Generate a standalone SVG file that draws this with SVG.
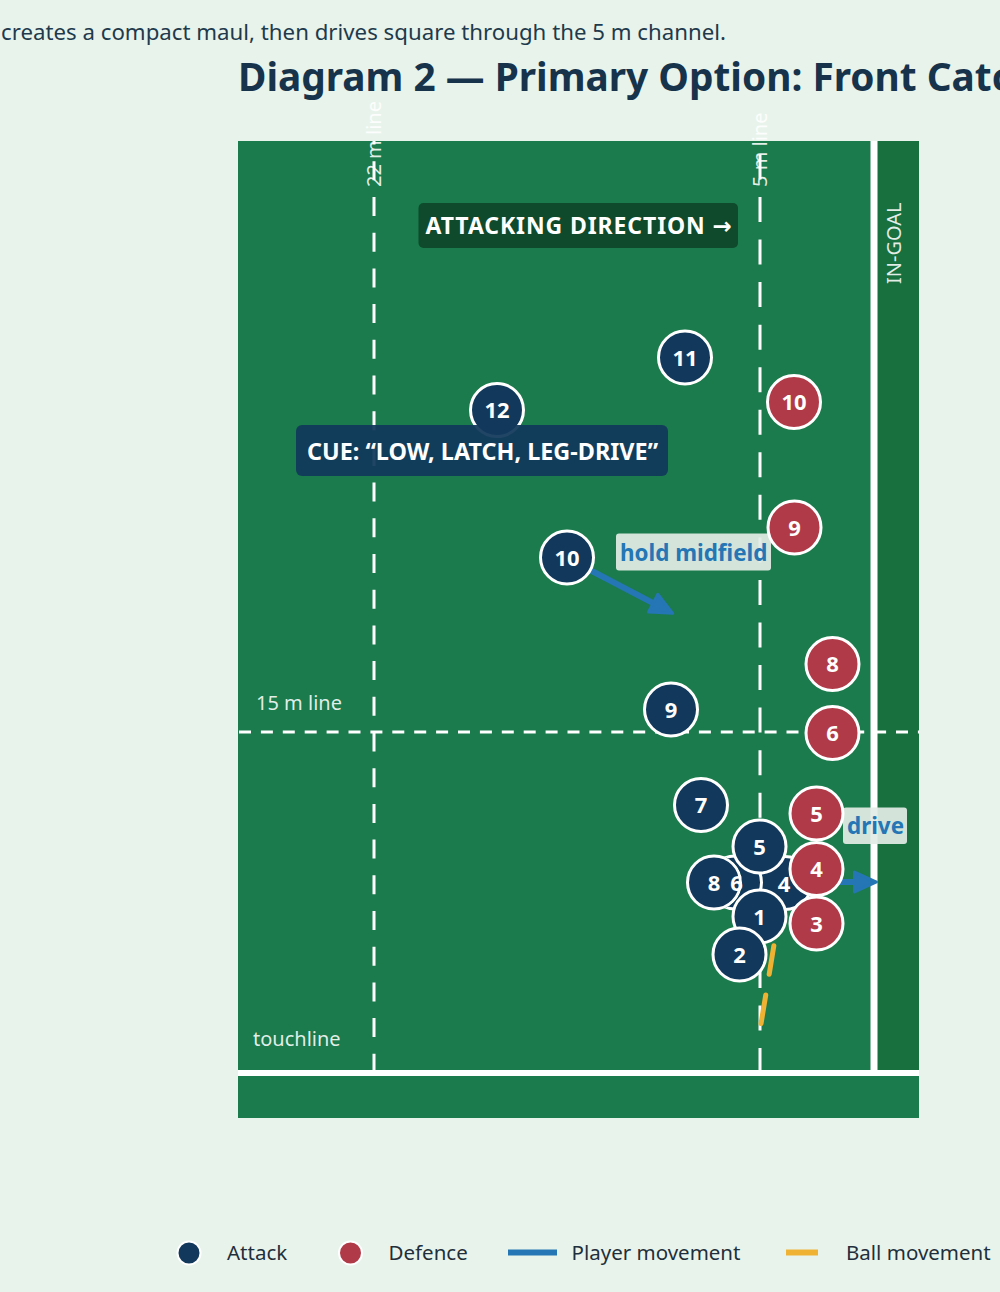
<svg xmlns="http://www.w3.org/2000/svg" width="1000" height="1292" viewBox="0 0 1000 1292">
<defs>
<style>
.t{font-family:"Noto Sans","Open Sans","DejaVu Sans",sans-serif}
.b{font-weight:700}
.att circle{fill:#12395b;stroke:#fff;stroke-width:3}
.def circle{fill:#b03a48;stroke:#fff;stroke-width:3}
.node text{font-family:"Noto Sans","Open Sans","DejaVu Sans",sans-serif;font-weight:700;font-size:22px;fill:#fff;text-anchor:middle}
.flab{font-family:"Noto Sans","Open Sans","DejaVu Sans",sans-serif;font-size:20px;fill:#fff;fill-opacity:0.88}
.vline{stroke:#fff;stroke-width:3;fill:none}
.move{stroke:#2476b5;stroke-width:6;fill:none;marker-end:url(#ah)}
.ball{stroke:#f0b232;stroke-width:5;fill:none;stroke-linecap:round}
.clab{font-family:"Noto Sans","Open Sans","DejaVu Sans",sans-serif;font-weight:700;font-size:22.4px;fill:#2476b5}
.cbox{fill:#e2ece6;fill-opacity:0.93}
.leg{font-family:"Noto Sans","Open Sans","DejaVu Sans",sans-serif;font-size:20.5px;fill:#1f2f3b}
</style>
<marker id="ah" markerUnits="userSpaceOnUse" markerWidth="26" markerHeight="24" viewBox="-2 -2 26 24" refX="14" refY="10" orient="auto">
<path d="M0,0 L22,10 L0,20 Z" fill="#2476b5" stroke="#2476b5" stroke-width="3" stroke-linejoin="round"/>
</marker>
<clipPath id="under8">
<path clip-rule="evenodd" d="M700,848 H770 V918 H700 Z M686,882.5 a28,28 0 1,0 56,0 a28,28 0 1,0 -56,0 Z"/>
</clipPath>
</defs>

<rect x="0" y="0" width="1000" height="1292" fill="#e8f4eb"/>

<text class="t" x="1" y="40" font-size="22" fill="#1f3a4c" textLength="725" lengthAdjust="spacingAndGlyphs">creates a compact maul, then drives square through the 5 m channel.</text>
<text class="t b" x="238" y="91" font-size="38.8" fill="#17334b">Diagram 2 — Primary Option: Front Catch</text>

<g id="field">
<rect x="238" y="141" width="681" height="977" fill="#1b7b4c"/>
<rect x="877" y="141" width="42" height="929" fill="#18703f"/>
<line x1="238" y1="1073" x2="919" y2="1073" stroke="#fff" stroke-width="6"/>
<line x1="874" y1="141" x2="874" y2="1076" stroke="#fff" stroke-width="7"/>
<line class="vline" x1="374" y1="141" x2="374" y2="1070" stroke-dasharray="19 16.7" stroke-dashoffset="15.4"/>
<line class="vline" x1="760" y1="141" x2="760" y2="1070" stroke-dasharray="25 17.55" stroke-dashoffset="29.1"/>
<line class="vline" x1="239" y1="732" x2="919" y2="732" stroke-dasharray="12 9.9"/>
<text class="flab" transform="translate(381,187) rotate(-90)" font-size="18.6">22 m line</text>
<text class="flab" transform="translate(767,187) rotate(-90)" font-size="19">5 m line</text>
<text class="flab" transform="translate(901,284) rotate(-90)" font-size="22.5">IN-GOAL</text>
<text class="flab" x="256" y="710">15 m line</text>
<text class="flab" x="253" y="1046">touchline</text>
</g>

<g id="attacking-direction">
<rect x="418.5" y="203" width="319.5" height="45" rx="5" fill="#0e4a2b"/>
<text class="t b" x="425.5" y="234" font-size="23" fill="#fff" letter-spacing="0.9">ATTACKING DIRECTION →</text>
</g>

<g id="connectors">
<line class="ball" x1="784" y1="884" x2="760" y2="1030" stroke-dasharray="29 21" stroke-dashoffset="37.5"/>
<line class="move" x1="567" y1="558" x2="665.6" y2="609.6"/>
<line class="move" x1="785" y1="882" x2="868.5" y2="882"/>
<g id="label-hold">
<rect class="cbox" x="616" y="533.5" width="155" height="37" rx="3"/>
<text class="clab" x="620" y="561">hold midfield</text>
</g>
<g id="label-drive">
<rect class="cbox" x="843" y="807.5" width="64" height="36.5" rx="3"/>
<text class="clab" x="847" y="834">drive</text>
</g>
</g>

<g id="nodes">
<g id="a11" class="node att"><circle cx="685" cy="357.5" r="26.5"/><text x="685" y="365.5">11</text></g>
<g id="a12" class="node att"><circle cx="497" cy="410" r="26.5"/><text x="497" y="418">12</text></g>
<g id="a10" class="node att"><circle cx="567" cy="557.5" r="26.5"/><text x="567" y="565.5">10</text></g>
<g id="a9" class="node att"><circle cx="671" cy="709.5" r="26.5"/><text x="671" y="717.5">9</text></g>
<g id="a7" class="node att"><circle cx="701" cy="805" r="26.5"/><text x="701" y="813">7</text></g>
<g id="a4" class="node att"><circle cx="785" cy="883" r="26.5"/><text x="784" y="892">4</text></g>
<g id="a8" class="node att"><circle cx="714" cy="882.5" r="26.5"/><text x="714" y="890.5">8</text></g>
<g id="a6" class="node att"><circle cx="735" cy="882.5" r="26.5" clip-path="url(#under8)"/><text x="736.5" y="890.5">6</text></g>
<g id="a5" class="node att"><circle cx="759.5" cy="846.5" r="26.5"/><text x="759.5" y="854.5">5</text></g>
<g id="a1" class="node att"><circle cx="759.5" cy="916.5" r="26.5"/><text x="759.5" y="924.5">1</text></g>
<g id="a2" class="node att"><circle cx="739.5" cy="954.5" r="26.5"/><text x="739.5" y="962.5">2</text></g>
<g id="d10" class="node def"><circle cx="794" cy="402" r="26.5"/><text x="794" y="410">10</text></g>
<g id="d9" class="node def"><circle cx="794.5" cy="527.5" r="26.5"/><text x="794.5" y="535.5">9</text></g>
<g id="d8" class="node def"><circle cx="832.5" cy="664" r="26.5"/><text x="832.5" y="672">8</text></g>
<g id="d6" class="node def"><circle cx="832.5" cy="733" r="26.5"/><text x="832.5" y="741">6</text></g>
<g id="d5" class="node def"><circle cx="816.5" cy="813.5" r="26.5"/><text x="816.5" y="821.5">5</text></g>
<g id="d4" class="node def"><circle cx="816.5" cy="869" r="26.5"/><text x="816.5" y="877">4</text></g>
<g id="d3" class="node def"><circle cx="816.5" cy="923.5" r="26.5"/><text x="816.5" y="931.5">3</text></g>
</g>

<g id="cue">
<rect x="296" y="425" width="372" height="51" rx="6" fill="#12395b" fill-opacity="0.94"/>
<text class="t b" x="482.5" y="460" font-size="23.4" fill="#fff" text-anchor="middle">CUE: “LOW, LATCH, LEG-DRIVE”</text>
</g>

<g id="legend">
<circle cx="189" cy="1253" r="11.5" fill="#12395b" stroke="#fff" stroke-width="2"/>
<text class="leg" x="227" y="1259.5">Attack</text>
<circle cx="350.5" cy="1253" r="11.5" fill="#b03a48" stroke="#fff" stroke-width="2"/>
<text class="leg" x="388.5" y="1259.5">Defence</text>
<line x1="508" y1="1252.5" x2="557" y2="1252.5" stroke="#2476b5" stroke-width="6"/>
<text class="leg" x="571.5" y="1259.5">Player movement</text>
<line x1="786" y1="1252.5" x2="818" y2="1252.5" stroke="#f0b232" stroke-width="6"/>
<text class="leg" x="846" y="1259.5">Ball movement</text>
</g>
</svg>
